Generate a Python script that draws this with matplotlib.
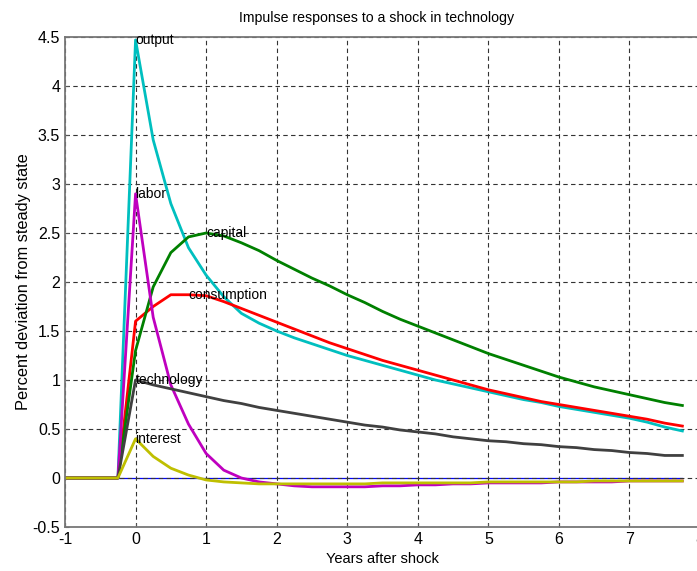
import numpy as np
import matplotlib
matplotlib.use("Agg")
import matplotlib.pyplot as plt

plt.rcParams['font.family'] = ['Liberation Sans', 'DejaVu Sans']
plt.rcParams['axes.unicode_minus'] = False

# === DATA: quarterly impulse responses (years after shock) ===
pre = [0.0, 0.0, 0.0, 0.0]          # x = -1 .. -0.25
years = [-1 + 0.25 * i for i in range(36)]  # -1 .. 7.75

output = pre + [4.47, 3.45, 2.80, 2.35, 2.07, 1.85, 1.68, 1.58, 1.50, 1.43, 1.37, 1.31,
                1.25, 1.20, 1.15, 1.10, 1.05, 1.00, 0.96, 0.92, 0.88, 0.84, 0.80, 0.77,
                0.73, 0.70, 0.67, 0.64, 0.61, 0.57, 0.52, 0.48]
consumption = pre + [1.60, 1.75, 1.87, 1.87, 1.86, 1.80, 1.73, 1.66, 1.59, 1.52, 1.45, 1.38,
                     1.32, 1.26, 1.20, 1.15, 1.10, 1.05, 1.00, 0.95, 0.90, 0.86, 0.82, 0.78,
                     0.75, 0.72, 0.69, 0.66, 0.63, 0.60, 0.56, 0.53]
capital = pre + [1.30, 1.95, 2.30, 2.46, 2.50, 2.47, 2.40, 2.32, 2.22, 2.13, 2.04, 1.96,
                 1.87, 1.79, 1.70, 1.62, 1.55, 1.48, 1.41, 1.34, 1.27, 1.21, 1.15, 1.09,
                 1.03, 0.98, 0.93, 0.89, 0.85, 0.81, 0.77, 0.74]
labor = pre + [2.90, 1.64, 0.95, 0.55, 0.25, 0.08, 0.00, -0.04, -0.06, -0.08, -0.09, -0.09,
               -0.09, -0.09, -0.08, -0.08, -0.07, -0.07, -0.06, -0.06, -0.05, -0.05, -0.05, -0.05,
               -0.04, -0.04, -0.04, -0.04, -0.03, -0.03, -0.03, -0.03]
technology = pre + [1.00, 0.95, 0.91, 0.87, 0.83, 0.79, 0.76, 0.72, 0.69, 0.66, 0.63, 0.60,
                    0.57, 0.54, 0.52, 0.49, 0.47, 0.45, 0.42, 0.40, 0.38, 0.37, 0.35, 0.34,
                    0.32, 0.31, 0.29, 0.28, 0.26, 0.25, 0.23, 0.23]
interest = pre + [0.40, 0.22, 0.10, 0.03, -0.02, -0.04, -0.05, -0.06, -0.06, -0.06, -0.06, -0.06,
                  -0.06, -0.06, -0.05, -0.05, -0.05, -0.05, -0.05, -0.05, -0.04, -0.04, -0.04, -0.04,
                  -0.04, -0.04, -0.03, -0.03, -0.03, -0.03, -0.03, -0.03]

series = [
    ("output", output, (0, 0.75, 0.75), 0, 4.47),
    ("consumption", consumption, (1, 0, 0), 0.75, 1.87),
    ("capital", capital, (0, 0.5, 0), 1.0, 2.50),
    ("labor", labor, (0.75, 0, 0.75), 0, 2.90),
    ("technology", technology, (0.25, 0.25, 0.25), 0, 1.00),
    ("interest", interest, (0.75, 0.75, 0), 0, 0.40),
]

# === PLOT ===
fig = plt.figure(figsize=(6.97, 5.71), dpi=100)
ax = fig.add_axes([65 / 697, 44 / 571, 635 / 697, 490 / 571])

ax.plot([-1, 7.75], [0, 0], color="blue", linewidth=0.9, zorder=1)
for name, vals, col, lx, ly in series:
    ax.plot(years, vals, color=col, linewidth=2.0, zorder=2)
for name, vals, col, lx, ly in series:
    ax.text(lx, ly, name, ha="left", va="center", fontsize=10, color="black", zorder=3)

ax.set_xlim(-1, 8)
ax.set_ylim(-0.5, 4.5)
ax.set_xticks(range(-1, 9))
ax.set_yticks(np.arange(-0.5, 4.51, 0.5))
ax.set_yticklabels(["-0.5", "0", "0.5", "1", "1.5", "2", "2.5", "3", "3.5", "4", "4.5"])
ax.grid(True, linestyle=(0, (4, 3)), color="#333333", linewidth=0.8)
ax.tick_params(direction="in", length=3, labelsize=11.5, colors="#555555", labelcolor="black")
for sp in ax.spines.values():
    sp.set_color("#777777")
    sp.set_linewidth(1.3)

ax.set_title("Impulse responses to a shock in technology", fontsize=10.2, pad=11, x=0.49)
ax.set_xlabel("Years after shock", fontsize=10.5, labelpad=4)
ax.set_ylabel("Percent deviation from steady state", fontsize=11.8, labelpad=1)

fig.savefig("out.png", dpi=100)
